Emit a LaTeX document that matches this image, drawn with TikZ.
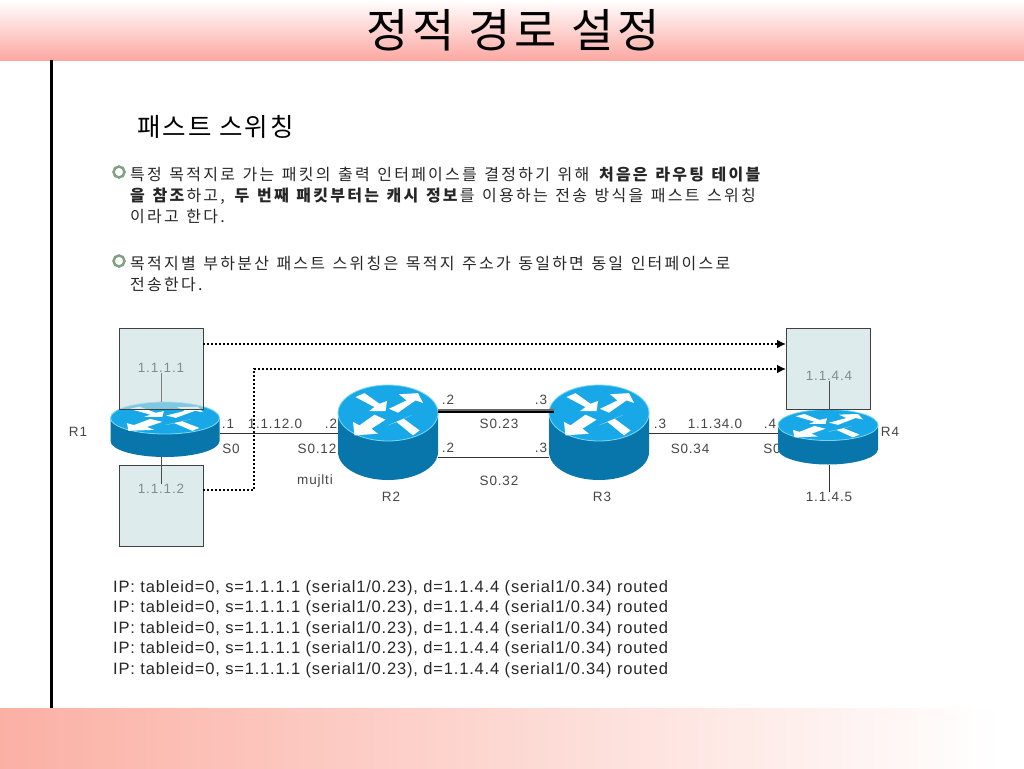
\documentclass[tikz,border=0pt]{standalone}
\usepackage{fontspec}
\usepackage{xcolor}
\setmainfont{Liberation Sans}[LetterSpace=6]
\newfontfamily\logfont{Liberation Sans}[LetterSpace=5]
\newfontfamily\cjk{Noto Sans CJK KR}[LetterSpace=14, WordSpace=1.3]
\newfontfamily\cjkhead{Noto Sans CJK KR}[LetterSpace=8]
\usetikzlibrary{arrows.meta, positioning, calc}
\definecolor{headerPink}{RGB}{252, 168, 162}
\definecolor{footerPink}{RGB}{251, 176, 164}
\definecolor{hostFill}{RGB}{198, 222, 223}
\definecolor{routerTop}{RGB}{24, 168, 232}
\definecolor{routerSide}{RGB}{8, 118, 170}
\definecolor{routerRim}{RGB}{120, 215, 245}
\definecolor{labelGray}{RGB}{70, 70, 70}
\definecolor{hostText}{RGB}{130, 140, 140}
\definecolor{ringGreen}{RGB}{130, 160, 130}
\tikzset{
  hostbox/.style={draw=black!75, line width=1pt, fill=hostFill, fill opacity=0.6, minimum width=84pt, minimum height=81pt, inner sep=0pt},
  routerspot/.style={inner sep=0pt, minimum height=0pt},
  netlabel/.style={font=\fontsize{13.5}{13.5}\selectfont, text=labelGray, inner sep=0pt},
  hostlabel/.style={font=\fontsize{13.5}{13.5}\selectfont, text=hostText, inner sep=0pt},
  bodytext/.style={font=\cjk\fontsize{16}{21}\selectfont, text=black!85, align=left, anchor=north west, inner sep=0pt},
  iplabel/.style={font=\logfont\fontsize{16.5}{16.5}\selectfont, text=black!85, anchor=west, inner sep=0pt},
  wire/.style={line width=0.9pt, black!80},
  flow/.style={line width=2pt, dash pattern=on 2pt off 2pt, black, -{Latex[length=9pt,width=9pt]}},
  bulletring/.style={circle, draw=ringGreen, line width=2.5pt, fill=white, minimum size=11pt, inner sep=0pt},
}
% router: #1 centre x, #2 top ellipse y, #3 half width, #4 half height of top, #5 body height
\newcommand{\drawrouter}[5]{%
  \begin{scope}[shift={(#1,#2)}, x=#3pt, y=#4pt]
    \fill[routerSide] (-1,0) arc[start angle=180, end angle=360, x radius=1, y radius=1] -- ++(0,-#5/#4) arc[start angle=360, end angle=180, x radius=1, y radius=1] -- cycle;
    \fill[routerTop, draw=routerRim, line width=0.8pt] (0,0) ellipse[x radius=1, y radius=1];
    \fill[white] (-.65,.57) -- (-.47,.71) -- (-.17,.33) -- (-.02,.43) -- (-.05,.07) -- (-.38,.07) -- (-.27,.21) -- cycle;
    \fill[white] (.02,.15) -- (.37,.45) -- (.22,.67) -- (.60,.71) -- (.70,.36) -- (.55,.45) -- (.20,.01) -- cycle;
    \fill[white] (-.27,-.06) -- (-.05,-.24) -- (-.33,-.56) -- (-.2,-.74) -- (-.67,-.8) -- (-.7,-.32) -- (-.57,-.44) -- cycle;
    \fill[white] (.47,-.08) -- (.31,-.2) -- (.63,-.62) -- (.5,-.8) -- (.17,-.32) -- (0,-.44) -- cycle;
  \end{scope}}
\begin{document}
\begin{tikzpicture}[x=1pt, y=-1pt]
  \useasboundingbox (0,0) rectangle (1024,768);
  % Page frame
  \shade[top color=white, bottom color=headerPink] (0,0) rectangle (1024,60);
  \shade[left color=footerPink, right color=white] (0,708) rectangle (1000,768);
  \fill[black] (49.5,60) rectangle (52.5,708);

  % Headings
  \node[font=\cjkhead\fontsize{46}{46}\selectfont, inner sep=0pt] at (513,30) (title) {정적 경로 설정};
  \node[font=\cjkhead\fontsize{25.5}{25.5}\selectfont, anchor=west, inner sep=0pt] at (137,127) (subtitle) {패스트 스위칭};

  % Body text
  \node[bulletring] at (119,172) (bulletA) {};
  \node[bulletring] at (119,261) (bulletB) {};
  \node[bodytext] at (130,167) (paraA) {특정 목적지로 가는 패킷의 출력 인터페이스를 결정하기 위해 \textbf{처음은 라우팅 테이블}\\\textbf{을 참조}하고, \textbf{두 번째 패킷부터는 캐시 정보}를 이용하는 전송 방식을 패스트 스위칭\\이라고 한다.};
  \node[bodytext] at (130,256) (paraB) {목적지별 부하분산 패스트 스위칭은 목적지 주소가 동일하면 동일 인터페이스로\\전송한다.};

  % Labels that the routers partly hide
  \node[netlabel] at (772,449) (s0d) {S0};

  % Routers
  \node[routerspot, minimum width=109pt] at (165,433) (r1) {};
  \node[routerspot, minimum width=100pt] at (388,433) (r2) {};
  \node[routerspot, minimum width=100pt] at (599,433) (r3) {};
  \node[routerspot, minimum width=99pt] at (828,433) (r4) {};
  \drawrouter{165}{418}{54.5}{16}{23}
  \drawrouter{388}{413}{50}{28}{39}
  \drawrouter{599}{413}{50}{28}{39}
  \drawrouter{828}{425}{50}{15.5}{24}

  % Hosts
  \node[hostbox] at (161,368.5) (hostA) {};
  \node[hostbox] at (161,505.5) (hostB) {};
  \node[hostbox] at (828.5,368.5) (hostD) {};
  \node[hostlabel] at (161,368) (ipA) {1.1.1.1};
  \node[hostlabel] at (161,489) (ipB) {1.1.1.2};
  \node[hostlabel] at (829,376) (ipD) {1.1.4.4};
  \node[netlabel] at (829,497) (ipE) {1.1.4.5};

  % Links
  \draw[wire] (r1.east) -- (r2.west);
  \draw[wire] (r3.east) -- (r4.west);
  \draw[wire] ([yshift=-24pt]r2.east) -- ([yshift=-24pt]r3.west);
  \draw[line width=2pt, black!60] ([yshift=23pt]r2.east) -- ([xshift=5pt,yshift=23pt]r3.west);
  \draw[line width=2.5pt, black] ([yshift=21pt]r2.east) -- ([xshift=5pt,yshift=21pt]r3.west);
  \draw[line width=0.9pt, black!50] (ipA.south) -- ++(0,29);
  \draw[line width=0.9pt, black!70] (ipB.north) -- ++(0,-27);
  \draw[line width=0.9pt, black!70] (ipD.south) -- ++(0,29);
  \draw[wire] (ipE.north) -- ++(0,-27);

  % Traffic
  \coordinate (fromA) at (203,344);
  \coordinate (fromB) at (203,490);
  \coordinate (toA) at (786,344);
  \coordinate (toB) at (786,369);
  \coordinate (bend) at (254,369);
  \draw[flow] (fromA) -- (toA);
  \draw[flow] (fromB) -| (bend) -- (toB);

  % Link labels
  \node[netlabel] at (78,432) (nameR1) {R1};
  \node[netlabel] at (391,497) (nameR2) {R2};
  \node[netlabel] at (602,497) (nameR3) {R3};
  \node[netlabel] at (890,432) (nameR4) {R4};
  \node[netlabel] at (228,424) (dotA) {.1};
  \node[netlabel] at (275,424) (netA) {1.1.12.0};
  \node[netlabel] at (331,424) (dotB) {.2};
  \node[netlabel] at (231,449) (s0a) {S0};
  \node[netlabel] at (317,449) (s012) {S0.12};
  \node[netlabel] at (315,481) (mujlti) {mujlti};
  \node[netlabel] at (448,400) (dotC) {.2};
  \node[netlabel] at (448,448) (dotD) {.2};
  \node[netlabel] at (541,400) (dotE) {.3};
  \node[netlabel] at (541,448) (dotF) {.3};
  \node[netlabel] at (499,424) (s023) {S0.23};
  \node[netlabel] at (499,481) (s032) {S0.32};
  \node[netlabel] at (660,424) (dotG) {.3};
  \node[netlabel] at (715,424) (netB) {1.1.34.0};
  \node[netlabel] at (770,424) (dotH) {.4};
  \node[netlabel] at (690,449) (s034) {S0.34};

  % Log lines
  \foreach \i/\ypos in {1/588, 2/608, 3/629, 4/649, 5/670}
    \node[iplabel] at (113,\ypos) (ip\i) {IP: tableid=0, s=1.1.1.1 (serial1/0.23), d=1.1.4.4 (serial1/0.34) routed};
\end{tikzpicture}
\end{document}
